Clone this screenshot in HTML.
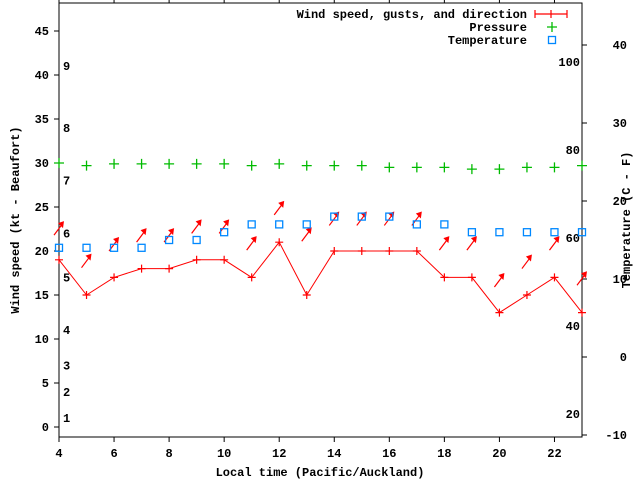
<!DOCTYPE html>
<html><head><meta charset="utf-8"><style>
html,body{margin:0;padding:0;background:#fff;}
svg text{font-family:"Liberation Mono",monospace;font-weight:bold;font-size:12px;fill:#000;}
</style></head><body>
<svg id="chart" width="640" height="480" viewBox="0 0 640 480" xmlns="http://www.w3.org/2000/svg"></svg>
<script>
const hours = [4,5,6,7,8,9,10,11,12,13,14,15,16,17,18,19,20,21,22,23];
const windSpeed = [19,15,17,18,18,19,19,17,21,15,20,20,20,20,17,17,13,15,17,13];
const gustSpeed = [22.6,18.9,20.8,21.8,21.8,22.8,22.8,20.9,24.9,21.9,23.7,23.7,23.7,23.7,20.9,20.9,16.7,18.8,20.9,16.9];
const pressure = [30,29.7,29.9,29.9,29.9,29.9,29.9,29.7,29.9,29.7,29.7,29.7,29.5,29.5,29.5,29.3,29.3,29.5,29.5,29.7];
const temperature = [14,14,14,14,15,15,16,17,17,17,18,18,18,17,17,16,16,16,16,16];
const xTicks = [4,6,8,10,12,14,16,18,20,22];
const yTicks = [0,5,10,15,20,25,30,35,40,45];
const y2Ticks = [-10,0,10,20,30,40];
const beaufortLabels = ["1","2","3","4","5","6","7","8","9"];
const beaufortKt = [1.0,4.0,7.0,11.0,17.0,22.0,28.0,34.0,41.0];
const fahrenheitLabels = ["20","40","60","80","100"];
const fahrenheitKt = [1.5,11.5,21.5,31.5,41.5];

const L=59,R=582,T=3,B=437;
const X=h=>L+(h-4)*(R-L)/19;
const Y=v=>427-v*8.8;
const Y2=c=>357-c*7.8;
const svg=document.getElementById('chart');
const NS='http://www.w3.org/2000/svg';
function mk(tag,attrs,parent){const e=document.createElementNS(NS,tag);for(const k in attrs)e.setAttribute(k,attrs[k]);(parent||svg).appendChild(e);return e;}
function txt(x,y,s,anchor){const t=mk('text',{x:x,y:y,'text-anchor':anchor||'start'});t.textContent=s;return t;}

// axes
const frame=mk('rect',{x:L,y:T,width:R-L,height:B-T,fill:'none',stroke:'#000','stroke-width':1});


xTicks.forEach(h=>{
  const x=X(h);
  mk('line',{x1:x,y1:B,x2:x,y2:B+5,stroke:'#000'});
  mk('line',{x1:x,y1:T,x2:x,y2:T-4,stroke:'#000'});
  const t=txt(x,B+20,String(h),'middle');
  
  
});
yTicks.forEach(v=>{
  const y=Y(v);
  mk('line',{x1:L-5,y1:y,x2:L,y2:y,stroke:'#000'});
  const t=txt(L-10,y+4,String(v),'end');
  
  
});
y2Ticks.forEach(c=>{
  const y=Y2(c);
  mk('line',{x1:R,y1:y,x2:R+5,y2:y,stroke:'#000'});
  const t=txt(627,y+4,String(c),'end');
  
  
});
beaufortLabels.forEach((s,i)=>{
  const t=txt(63,Y(beaufortKt[i])+4,s,'start');
  
  
});
fahrenheitLabels.forEach((s,i)=>{
  const t=txt(580,Y(fahrenheitKt[i])+4,s,'end');
  
  
});

// axis titles
const xt=txt(320,476,'Local time (Pacific/Auckland)','middle');


const yt=txt(0,0,'Wind speed (kt - Beaufort)','middle');
yt.setAttribute('transform','translate(19,220) rotate(-90)');


const y2t=txt(0,0,'Temperature (C - F)','middle');
y2t.setAttribute('transform','translate(630,220) rotate(-90)');



// wind line
const pts=hours.map((h,i)=>X(h)+','+Y(windSpeed[i])).join(' ');
const wl=mk('polyline',{points:pts,fill:'none',stroke:'#f00','stroke-width':1});


hours.forEach((h,i)=>{
  const x=X(h),y=Y(windSpeed[i]);
  const g=mk('path',{d:`M${x-4},${y}H${x+4}M${x},${y-4}V${y+4}`,stroke:'#f00','stroke-width':1.2});
  
  
});
// gust arrows
hours.forEach((h,i)=>{
  const x=X(h),y=Y(gustSpeed[i]);
  const a=mk('g',{});
  
  
  mk('line',{x1:x-5,y1:y+7,x2:x+4,y2:y-5,stroke:'#f00','stroke-width':1.2},a);
  mk('polygon',{points:`${x+5},${y-7} ${x-1},${y-5} ${x+4},${y}`,fill:'#f00'},a);
});
// pressure
hours.forEach((h,i)=>{
  const x=X(h),y=Y(pressure[i]);
  const p=mk('path',{d:`M${x-5},${y}H${x+5}M${x},${y-5}V${y+5}`,stroke:'#0b0','stroke-width':1.3});
  
  
});
// temperature
hours.forEach((h,i)=>{
  const x=X(h),y=Y2(temperature[i]);
  const s=mk('rect',{x:x-3.5,y:y-3.5,width:7,height:7,fill:'none',stroke:'#08f','stroke-width':1.3});
  
  
});

// legend
const lg=mk('g',{});


const l1=txt(527,18,'Wind speed, gusts, and direction','end');lg.appendChild(l1);
mk('path',{d:'M535,14H567M535,10V18M551,10V18M567,10V18',stroke:'#f00','stroke-width':1.2},lg);
const l2=txt(527,31,'Pressure','end');lg.appendChild(l2);
mk('path',{d:'M547,27H557M552,22V32',stroke:'#0b0','stroke-width':1.3},lg);
const l3=txt(527,44,'Temperature','end');lg.appendChild(l3);
mk('rect',{x:548.5,y:36.5,width:7,height:7,fill:'none',stroke:'#08f','stroke-width':1.3},lg);
</script>
</body></html>
